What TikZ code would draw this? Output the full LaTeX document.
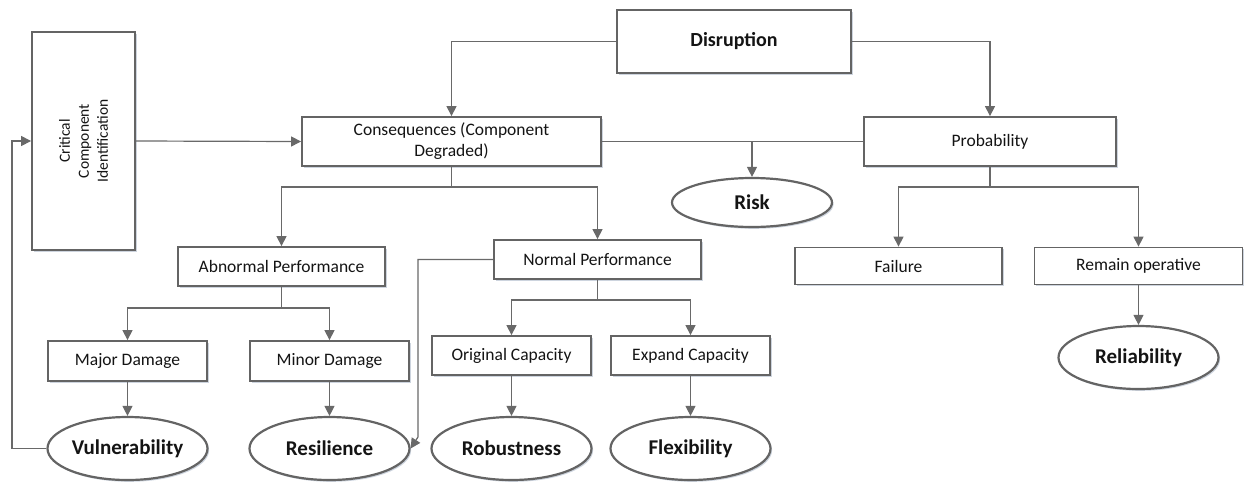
\documentclass[tikz,border=0pt]{standalone}
\usepackage{fontspec}
\setmainfont{Carlito}
\usetikzlibrary{arrows.meta,shapes.geometric,shadows}
\definecolor{boxc}{RGB}{100,100,100}
\definecolor{linec}{RGB}{105,105,105}
\definecolor{txt}{RGB}{20,20,20}
\definecolor{shad}{RGB}{205,212,222}
\tikzset{
  box/.style={draw=boxc, line width=1.8pt, fill=white, inner sep=2pt, text=txt, align=center,
    font=\fontsize{17.5}{22}\selectfont,
    drop shadow={shadow xshift=1.6pt, shadow yshift=-1.8pt, fill=shad, opacity=1}},
  ell/.style={ellipse, draw=boxc, line width=2.2pt, fill=white, inner sep=0pt, text=txt,
    font=\bfseries\fontsize{21}{24}\selectfont, minimum width=160pt, minimum height=63pt,
    drop shadow={shadow xshift=1.6pt, shadow yshift=-1.8pt, fill=shad, opacity=1}},
  conn/.style={draw=linec, line width=1.2pt},
  arr/.style={conn, -{Triangle[length=10pt,width=10pt]}},
}
\begin{document}
\begin{tikzpicture}[x=1pt,y=-1pt]
\useasboundingbox (0,0) rectangle (1245,483);
% boxes
\node[box, minimum width=103pt, minimum height=218pt] (cci) at (83.5,141) {};
\node[text=txt, rotate=90, align=center, font=\fontsize{15.5}{19}\selectfont] (ccitext) at (cci.center) {Critical\\Component\\Identification};
\node[box, minimum width=234pt, minimum height=63pt, font=\bfseries\fontsize{20}{24}\selectfont] (dis) at (734,41.5) {Disruption};
\node[box, minimum width=299pt, minimum height=49pt] (con) at (451.5,141.5) {Consequences (Component\\[-1pt]Degraded)};
\node[box, minimum width=252pt, minimum height=49pt] (prob) at (990,141.5) {Probability};
\node[ell, minimum width=160pt, minimum height=49pt] (risk) at (752,202.5) {Risk};
\node[box, minimum width=207pt, minimum height=39pt] (abn) at (281.5,266.5) {Abnormal Performance};
\node[box, minimum width=207pt, minimum height=39pt] (nor) at (597.5,259.5) {Normal Performance};
\node[box, minimum width=207pt, minimum height=37pt] (fail) at (898.5,266) {Failure};
\node[box, minimum width=208pt, minimum height=37pt] (rem) at (1138.5,266) {Remain operative};
\node[box, minimum width=159pt, minimum height=40pt] (maj) at (127.5,361) {Major Damage};
\node[box, minimum width=159pt, minimum height=40pt] (min) at (329.5,361) {Minor Damage};
\node[box, minimum width=159pt, minimum height=39pt] (orig) at (511.5,355.5) {Original Capacity};
\node[box, minimum width=159pt, minimum height=39pt] (exp) at (690.5,355.5) {Expand Capacity};
\node[ell] (vul) at (127.5,448.5) {Vulnerability};
\node[ell] (res) at (329.5,448.5) {Resilience};
\node[ell] (rob) at (511.5,448.5) {Robustness};
\node[ell] (flex) at (690.5,448.5) {Flexibility};
\node[ell] (rel) at (1138.5,357.5) {Reliability};
% connectors
\draw[arr] (dis.west) -| (con.north);
\draw[arr] (dis.east) -| (prob.north);
\draw[arr] (cci.east) -- (con.west);
\draw[conn] (con.east) -- (prob.west);
\draw[arr] (risk.north |- con.east) -- (risk.north);
\draw[conn] (con.south) -- ++(0,20) coordinate (cb);
\draw[arr] (cb) -| (abn.north);
\draw[arr] (cb) -| (nor.north);
\draw[conn] (prob.south) -- ++(0,20) coordinate (pb);
\draw[arr] (pb) -| (fail.north);
\draw[arr] (pb) -| (rem.north);
\draw[conn] (abn.south) -- ++(0,21) coordinate (ab);
\draw[arr] (ab) -| (maj.north);
\draw[arr] (ab) -| (min.north);
\draw[conn] (nor.south) -- ++(0,20) coordinate (nb);
\draw[arr] (nb) -| (orig.north);
\draw[arr] (nb) -| (exp.north);
\draw[arr] (maj.south) -- (vul.north);
\draw[arr] (min.south) -- (res.north);
\draw[arr] (orig.south) -- (rob.north);
\draw[arr] (exp.south) -- (flex.north);
\draw[arr] (rem.south) -- (rel.north);
\coordinate (fbl) at (12,448.5);
\draw[arr] (vul.west) -- (fbl) |- (cci.west);
\coordinate (nl) at (418,259.5);
\coordinate (nd) at (418,437);
\draw[arr] (nor.west) -- (nl) -- (nd) -- (res.east);
\end{tikzpicture}
\end{document}
